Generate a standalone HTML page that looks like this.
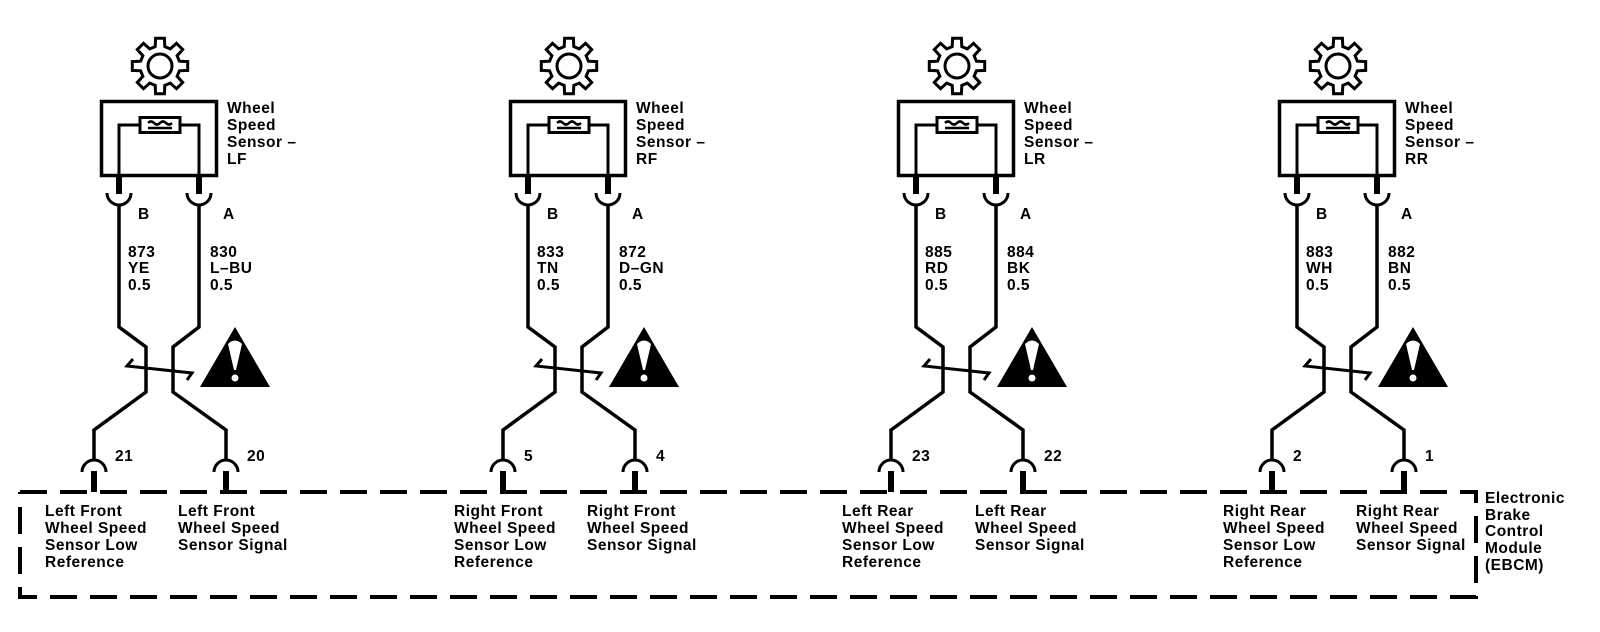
<!DOCTYPE html>
<html><head><meta charset="utf-8"><style>
html,body{margin:0;padding:0;background:#fff;}
svg{display:block;}
text{font-family:"Liberation Sans",Arial,sans-serif;font-size:15.5px;font-weight:bold;letter-spacing:0.5px;fill:#000;}
</style></head><body>
<svg width="1600" height="632" viewBox="0 0 1600 632" xmlns="http://www.w3.org/2000/svg">
<defs>
<g id="grp">
  <path transform="translate(160,66)" fill="#fff" stroke="#000" stroke-width="3" stroke-linejoin="miter" d="M-4.8,-19.4 L-4.4,-27.7 L4.4,-27.7 L4.8,-19.4 L10.3,-17.1 L16.5,-22.7 L22.7,-16.5 L17.1,-10.3 L19.4,-4.8 L27.7,-4.4 L27.7,4.4 L19.4,4.8 L17.1,10.3 L22.7,16.5 L16.5,22.7 L10.3,17.1 L4.8,19.4 L4.4,27.7 L-4.4,27.7 L-4.8,19.4 L-10.3,17.1 L-16.5,22.7 L-22.7,16.5 L-17.1,10.3 L-19.4,4.8 L-27.7,4.4 L-27.7,-4.4 L-19.4,-4.8 L-17.1,-10.3 L-22.7,-16.5 L-16.5,-22.7 L-10.3,-17.1 Z" />
  <circle cx="160" cy="66" r="12" fill="none" stroke="#000" stroke-width="3"/>
  <rect x="101.5" y="101.5" width="115" height="74" fill="none" stroke="#000" stroke-width="3.5"/>
  <rect x="140" y="117.5" width="40" height="15" fill="#fff" stroke="#000" stroke-width="3"/>
  <path d="M148,123 q3,-3 6,0 q3,3 6,0 q3,-3 6,0 q3,3 6,0" fill="none" stroke="#000" stroke-width="2.5"/>
  <line x1="148" y1="128" x2="172" y2="128" stroke="#000" stroke-width="2.5"/>
  <polyline points="140,125 119,125 119,177" fill="none" stroke="#000" stroke-width="3"/>
  <polyline points="180,125 199,125 199,177" fill="none" stroke="#000" stroke-width="3"/>
  <line x1="119" y1="176" x2="119" y2="194" stroke="#000" stroke-width="6"/>
  <line x1="199" y1="176" x2="199" y2="194" stroke="#000" stroke-width="6"/>
  <path d="M107,193 A12,12 0 0 0 131,193" fill="none" stroke="#000" stroke-width="3"/>
  <path d="M187,193 A12,12 0 0 0 211,193" fill="none" stroke="#000" stroke-width="3"/>
  <polyline points="119,205 119,327 146,347 146,392 94,430 94,460" fill="none" stroke="#000" stroke-width="3.5" stroke-linejoin="miter"/>
  <polyline points="199,205 199,327 173,347 173,392 226,430 226,460" fill="none" stroke="#000" stroke-width="3.5" stroke-linejoin="miter"/>
  <polyline points="133,359 127,366 192,373 187,380" fill="none" stroke="#000" stroke-width="3"/>
  <path d="M82,472 A12,12 0 0 1 106,472" fill="none" stroke="#000" stroke-width="3"/>
  <path d="M214,472 A12,12 0 0 1 238,472" fill="none" stroke="#000" stroke-width="3"/>
  <line x1="94" y1="471" x2="94" y2="492" stroke="#000" stroke-width="6"/>
  <line x1="226" y1="471" x2="226" y2="492" stroke="#000" stroke-width="6"/>
  <polygon points="235,327 200,387 270,387" fill="#000"/>
  <path d="M228,344 Q235,337 242,344 L236,370 L234,370 Z" fill="#fff"/>
  <circle cx="235" cy="378" r="3.5" fill="#fff"/>
  <text x="138" y="219">B</text>
  <text x="223" y="219">A</text>
</g>
</defs>

<polyline points="20,492 1476,492 1476,597 20,597 20,492" fill="none" stroke="#000" stroke-width="4" stroke-dasharray="27,13"/>

<g transform="translate(0,0)">
  <use href="#grp"/>
  <text x="227" y="113">Wheel</text><text x="227" y="130">Speed</text><text x="227" y="147">Sensor –</text><text x="227" y="164">LF</text>
  <text x="128" y="257">873</text><text x="128" y="273">YE</text><text x="128" y="290">0.5</text>
  <text x="210" y="257">830</text><text x="210" y="273">L–BU</text><text x="210" y="290">0.5</text>
  <text x="115" y="461">21</text><text x="247" y="461">20</text>
  <text x="45" y="516">Left Front</text><text x="45" y="533">Wheel Speed</text><text x="45" y="550">Sensor Low</text><text x="45" y="567">Reference</text>
  <text x="178" y="516">Left Front</text><text x="178" y="533">Wheel Speed</text><text x="178" y="550">Sensor Signal</text>
</g>

<g transform="translate(409,0)">
  <use href="#grp"/>
  <text x="227" y="113">Wheel</text><text x="227" y="130">Speed</text><text x="227" y="147">Sensor –</text><text x="227" y="164">RF</text>
  <text x="128" y="257">833</text><text x="128" y="273">TN</text><text x="128" y="290">0.5</text>
  <text x="210" y="257">872</text><text x="210" y="273">D–GN</text><text x="210" y="290">0.5</text>
  <text x="115" y="461">5</text><text x="247" y="461">4</text>
  <text x="45" y="516">Right Front</text><text x="45" y="533">Wheel Speed</text><text x="45" y="550">Sensor Low</text><text x="45" y="567">Reference</text>
  <text x="178" y="516">Right Front</text><text x="178" y="533">Wheel Speed</text><text x="178" y="550">Sensor Signal</text>
</g>

<g transform="translate(797,0)">
  <use href="#grp"/>
  <text x="227" y="113">Wheel</text><text x="227" y="130">Speed</text><text x="227" y="147">Sensor –</text><text x="227" y="164">LR</text>
  <text x="128" y="257">885</text><text x="128" y="273">RD</text><text x="128" y="290">0.5</text>
  <text x="210" y="257">884</text><text x="210" y="273">BK</text><text x="210" y="290">0.5</text>
  <text x="115" y="461">23</text><text x="247" y="461">22</text>
  <text x="45" y="516">Left Rear</text><text x="45" y="533">Wheel Speed</text><text x="45" y="550">Sensor Low</text><text x="45" y="567">Reference</text>
  <text x="178" y="516">Left Rear</text><text x="178" y="533">Wheel Speed</text><text x="178" y="550">Sensor Signal</text>
</g>

<g transform="translate(1178,0)">
  <use href="#grp"/>
  <text x="227" y="113">Wheel</text><text x="227" y="130">Speed</text><text x="227" y="147">Sensor –</text><text x="227" y="164">RR</text>
  <text x="128" y="257">883</text><text x="128" y="273">WH</text><text x="128" y="290">0.5</text>
  <text x="210" y="257">882</text><text x="210" y="273">BN</text><text x="210" y="290">0.5</text>
  <text x="115" y="461">2</text><text x="247" y="461">1</text>
  <text x="45" y="516">Right Rear</text><text x="45" y="533">Wheel Speed</text><text x="45" y="550">Sensor Low</text><text x="45" y="567">Reference</text>
  <text x="178" y="516">Right Rear</text><text x="178" y="533">Wheel Speed</text><text x="178" y="550">Sensor Signal</text>
</g>

<text x="1485" y="503">Electronic</text>
<text x="1485" y="520">Brake</text>
<text x="1485" y="536">Control</text>
<text x="1485" y="553">Module</text>
<text x="1485" y="570">(EBCM)</text>
</svg>
</body></html>
